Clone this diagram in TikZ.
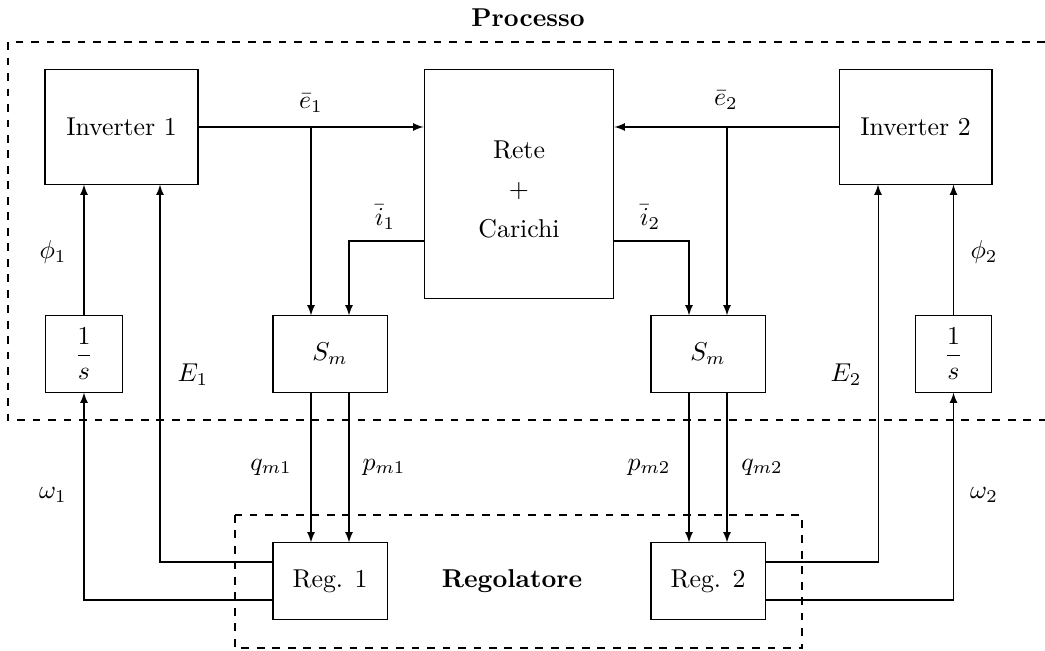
\documentclass[tikz,border=0pt]{standalone}
\usetikzlibrary{arrows}
\begin{document}
\begin{tikzpicture}[x=0.3876pt, y=-0.3876pt,
  blk/.style={draw, inner sep=0pt},
  invbox/.style={blk, minimum width=59.3pt, minimum height=44.2pt},
  smallbox/.style={blk, minimum width=44.2pt, minimum height=29.5pt},
  intbox/.style={blk, minimum width=29.8pt, minimum height=29.5pt},
  retebox/.style={blk, minimum width=73.6pt, minimum height=88.4pt},
  sig/.style={-latex},
  frame/.style={dashed}]
\useasboundingbox (0,0) rectangle (1045,650);
% dashed regions
\draw[frame] (1045,42) -- (8,42) -- (8,420) -- (1045,420);
\node[font=\bfseries] (proc) at (528,18) {Processo};
\draw[frame] (235,515) rectangle (802,648);
\node[font=\bfseries] (regol) at (512,581) {Regolatore};
% blocks
\node[invbox] (inv1) at (121.5,127) {Inverter 1};
\node[invbox] (inv2) at (915.5,127) {Inverter 2};
\node[retebox] (rete) at (519,184) {};
\node[align=center, inner sep=0pt] (retetxt) at ([yshift=-2pt]rete.center) {Rete\\[3.3pt]$+$\\[3.3pt]Carichi};
\node[intbox] (int1) at (84,354) {$\displaystyle\frac{1}{s}$};
\node[intbox] (int2) at (953.5,354) {$\displaystyle\frac{1}{s}$};
\node[smallbox] (sm1) at (330,354) {$S_m$};
\node[smallbox] (sm2) at (708,354) {$S_m$};
\node[smallbox] (reg1) at (330,581) {Reg. 1};
\node[smallbox] (reg2) at (708,581) {Reg. 2};
% coordinates
\coordinate (b1) at (311,127);
\coordinate (b2) at (727,127);
\coordinate (c1) at (349,241);
\coordinate (c2) at (689,241);
\coordinate (r1a) at (160,562);
\coordinate (r1b) at (84,600);
\coordinate (r2a) at (878,562);
\coordinate (r2b) at (953.5,600);
% signals
\draw[sig] (inv1.east) -- (rete.west |- inv1.east);
\draw[sig] (b1) -- (b1 |- sm1.north);
\draw[sig] (inv2.west) -- (rete.east |- inv2.west);
\draw[sig] (b2) -- (b2 |- sm2.north);
\draw[sig] (rete.west |- c1) -- (c1) -- (c1 |- sm1.north);
\draw[sig] (rete.east |- c2) -- (c2) -- (c2 |- sm2.north);
\draw[sig] (int1.north) -- (inv1.south -| int1.north);
\draw[sig] (int2.north) -- (inv2.south -| int2.north);
\draw[sig] (sm1.south -| b1) -- (reg1.north -| b1);
\draw[sig] (sm1.south -| c1) -- (reg1.north -| c1);
\draw[sig] (sm2.south -| c2) -- (reg2.north -| c2);
\draw[sig] (sm2.south -| b2) -- (reg2.north -| b2);
\draw[sig] (reg1.west |- r1a) -- (r1a) -- (r1a |- inv1.south);
\draw[sig] (reg1.west |- r1b) -- (r1b) -- (int1.south);
\draw[sig] (reg2.east |- r2a) -- (r2a) -- (r2a |- inv2.south);
\draw[sig] (reg2.east |- r2b) -- (r2b) -- (int2.south);
% labels
\node (le1) at (311,103) {$\bar e_1$};
\node (le2) at (726,100) {$\bar e_2$};
\node (li1) at (385,217) {$\bar i_1$};
\node (li2) at (650,217) {$\bar i_2$};
\node (lphi1) at (53,252) {$\phi_1$};
\node (lphi2) at (984,252) {$\phi_2$};
\node (lE1) at (193,375) {$E_1$};
\node (lE2) at (846,375) {$E_2$};
\node (lq1) at (271,467) {$q_{m1}$};
\node (lp1) at (384,467) {$p_{m1}$};
\node (lp2) at (649,467) {$p_{m2}$};
\node (lq2) at (762,467) {$q_{m2}$};
\node (lw1) at (53,495) {$\omega_1$};
\node (lw2) at (984,495) {$\omega_2$};
\end{tikzpicture}
\end{document}
